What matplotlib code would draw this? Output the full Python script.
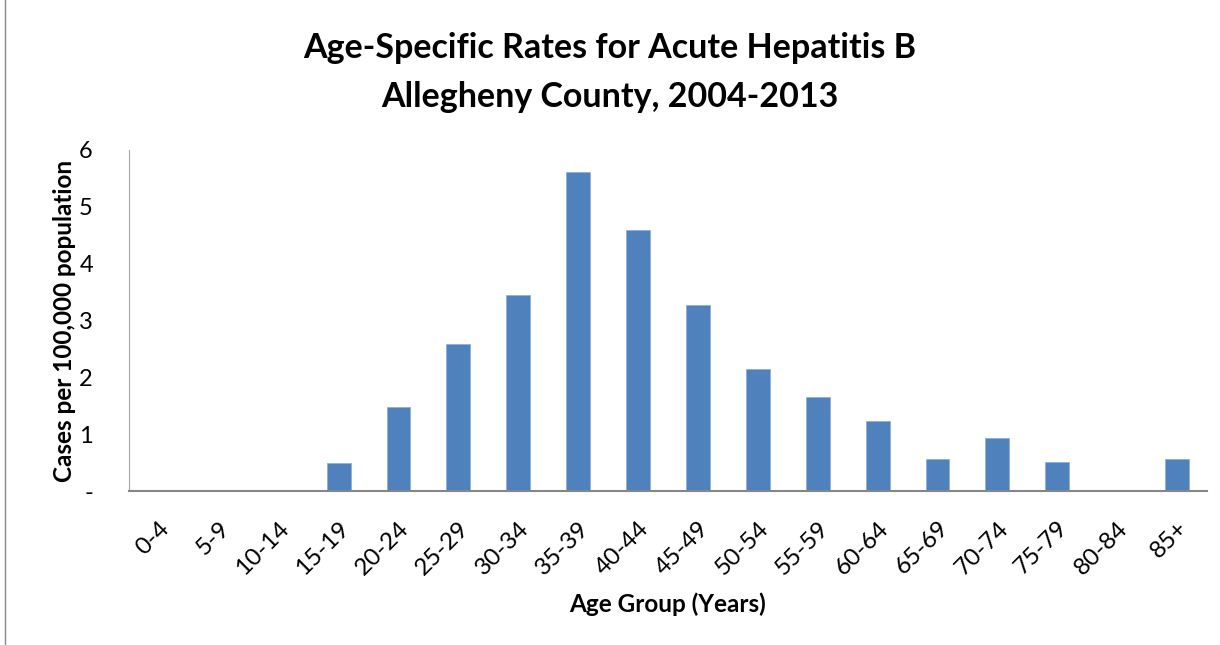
import matplotlib.pyplot as plt
from matplotlib.patches import Rectangle

# age groups and rates per 100,000
age_groups = ['0-4', '5-9', '10-14', '15-19', '20-24', '25-29', '30-34', '35-39',
              '40-44', '45-49', '50-54', '55-59', '60-64', '65-69', '70-74',
              '75-79', '80-84', '85+']
rates = [0, 0, 0, 0.50, 1.47, 2.59, 3.45, 5.62, 4.59, 3.28, 2.14, 1.66,
         1.23, 0.56, 0.93, 0.51, 0, 0.56]
y_ticks = [0, 1, 2, 3, 4, 5, 6]
y_tick_labels = ['-', '1', '2', '3', '4', '5', '6']

plt.rcParams['font.family'] = ['Lato', 'DejaVu Sans']

fig = plt.figure(figsize=(12.2, 6.45), dpi=100)
ax = fig.add_axes([129 / 1220, 1 - 491 / 645, 1078 / 1220, 341 / 645])

x = range(len(age_groups))
ax.bar(x, rates, width=0.4, color='#4f81bd', edgecolor='#8fb0de', linewidth=0.6)

ax.set_xlim(-0.5, len(age_groups) - 0.5)
ax.set_ylim(0, 6)
ax.set_yticks(y_ticks)
ax.set_yticklabels(y_tick_labels, fontsize=17)
ax.set_xticks(list(x))
ax.set_xticklabels(age_groups, rotation=45, ha='right', rotation_mode='anchor', fontsize=17.5)
ax.tick_params(length=0)
ax.tick_params(axis='y', pad=26)
ax.tick_params(axis='x', pad=19)

for s in ['top', 'right']:
    ax.spines[s].set_visible(False)
ax.spines['left'].set_color('#a6a6a6')
ax.spines['bottom'].set_color('#868686')
ax.spines['bottom'].set_linewidth(1.5)

ax.set_ylabel('Cases per 100,000 population', fontsize=17.5, fontweight='bold', labelpad=2)
ax.set_xlabel('Age Group (Years)', fontsize=17.5, fontweight='bold', labelpad=10)

fig.text(0.5, 1 - 48 / 645, 'Age-Specific Rates for Acute Hepatitis B', ha='center', va='center',
         fontsize=24.5, fontweight='bold')
fig.text(0.5, 1 - 97 / 645, 'Allegheny County, 2004-2013', ha='center', va='center',
         fontsize=24.5, fontweight='bold')

# chart border
fig.patches.append(Rectangle((5 / 1220, -0.01), 1.0, 1.02, transform=fig.transFigure,
                             fill=False, edgecolor='#888888', linewidth=1))

plt.savefig('out.png')
